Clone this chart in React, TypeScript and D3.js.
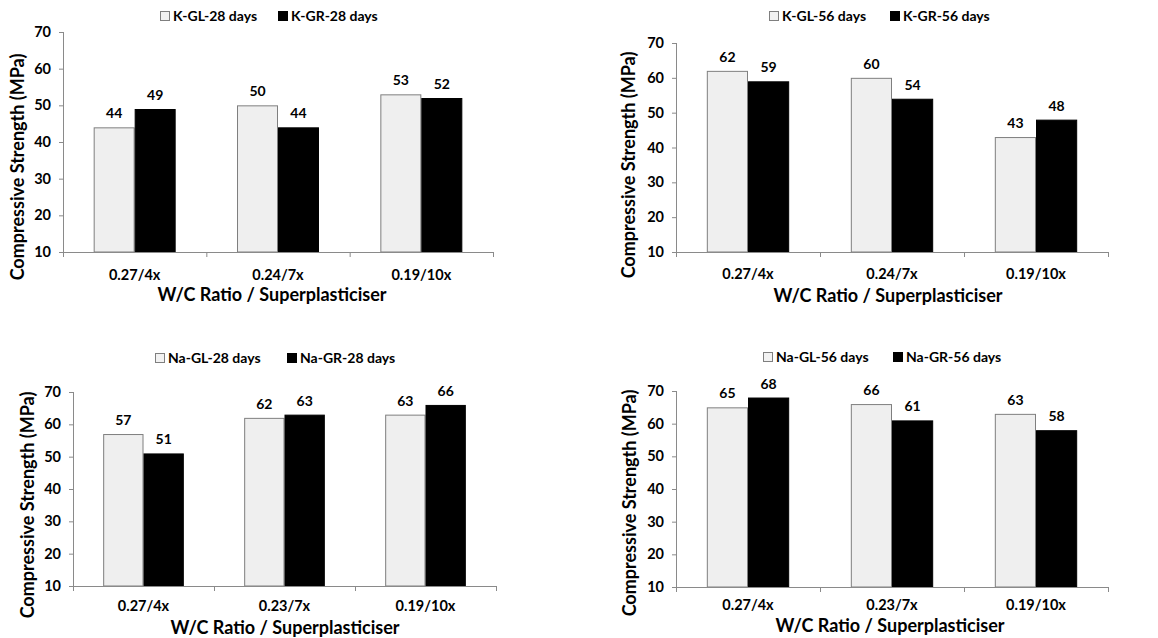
import * as d3 from 'd3';
import { useEffect, useRef } from 'react';

// values
const kCategories = ['0.27/4x', '0.24/7x', '0.19/10x'];
const naCategories = ['0.27/4x', '0.23/7x', '0.19/10x'];
const yTicks = [10, 20, 30, 40, 50, 60, 70];

const kGL28 = [44, 50, 53];
const kGR28 = [49, 44, 52];
const kGL56 = [62, 60, 43];
const kGR56 = [59, 54, 48];
const naGL28 = [57, 62, 63];
const naGR28 = [51, 63, 66];
const naGL56 = [65, 66, 63];
const naGR56 = [68, 61, 58];

const FONT = 'Lato, "Open Sans", sans-serif';
const AXIS_GREY = '#8a8a8a';

interface PanelProps {
    categories: string[];
    gl: number[];
    gr: number[];
    glName: string;
    grName: string;
    x0: number;
    x1: number;
    yTop: number;
    yBot: number;
    legendY: number;
    legendX1: number;
    legendX2: number;
    yTitleX: number;
    yTitleY: number;
    xTickY: number;
    xTitleX: number;
    xTitleY: number;
}

function Panel(props: PanelProps) {
    const { categories, gl, gr, glName, grName, x0, x1, yTop, yBot } = props;
    const xAxisRef = useRef<SVGGElement>(null);
    const yAxisRef = useRef<SVGGElement>(null);

    const x = d3.scaleBand<string>().domain(categories).range([x0, x1]).padding(0);
    const inner = d3
        .scaleBand<string>()
        .domain(['gl', 'gr'])
        .range([x.bandwidth() * 0.214, x.bandwidth() * 0.786])
        .padding(0);
    const y = d3.scaleLinear().domain([10, 70]).range([yBot, yTop]);

    useEffect(() => {
        if (yAxisRef.current) {
            d3.select(yAxisRef.current)
                .call(d3.axisLeft(y).tickValues(yTicks).tickSize(4).tickPadding(8).tickFormat(d3.format('d')))
                .call((g) => g.select('.domain').attr('stroke', AXIS_GREY).attr('d', `M0.5,${yTop}V${yBot}`))
                .call((g) => g.selectAll('.tick line').attr('stroke', AXIS_GREY))
                .call((g) =>
                    g
                        .selectAll('.tick text')
                        .attr('fill', '#000')
                        .attr('font-size', 14.5)
                        .attr('font-weight', 700)
                        .attr('font-family', FONT)
                );
        }
        if (xAxisRef.current) {
            const bounds = [x0, ...categories.map((c) => (x(c) as number) + x.bandwidth())];
            const g = d3.select(xAxisRef.current);
            g.selectAll('*').remove();
            g.append('line')
                .attr('x1', x0 - 4)
                .attr('x2', x1)
                .attr('y1', yBot + 0.5)
                .attr('y2', yBot + 0.5)
                .attr('stroke', AXIS_GREY);
            g.selectAll('.bnd')
                .data(bounds)
                .join('line')
                .attr('class', 'bnd')
                .attr('x1', (d) => d + 0.5)
                .attr('x2', (d) => d + 0.5)
                .attr('y1', yBot)
                .attr('y2', yBot + 5)
                .attr('stroke', AXIS_GREY);
            g.selectAll('.lbl')
                .data(categories)
                .join('text')
                .attr('class', 'lbl')
                .attr('x', (d) => (x(d) as number) + x.bandwidth() / 2)
                .attr('y', props.xTickY)
                .attr('dy', '0.35em')
                .attr('text-anchor', 'middle')
                .attr('font-size', 14.5)
                .attr('font-weight', 700)
                .attr('font-family', FONT)
                .text((d) => d);
        }
    });

    const series = [
        { key: 'gl', values: gl, fill: '#efefef', stroke: '#7f7f7f' },
        { key: 'gr', values: gr, fill: '#000', stroke: '#000' },
    ];

    return (
        <g>
            {series.map((s) =>
                s.values.map((v, i) => {
                    const bx = (x(categories[i]) as number) + (inner(s.key) as number);
                    return (
                        <g key={s.key + i}>
                            <rect
                                x={bx + 0.5}
                                y={y(v) + 0.5}
                                width={inner.bandwidth() - 1}
                                height={yBot - y(v) - 0.5}
                                fill={s.fill}
                                stroke={s.stroke}
                                strokeWidth={1}
                            />
                            <text
                                x={bx + inner.bandwidth() / 2}
                                y={y(v) - 9}
                                textAnchor="middle"
                                fontSize={14}
                                fontWeight={700}
                                fontFamily={FONT}
                            >
                                {v}
                            </text>
                        </g>
                    );
                })
            )}
            <g ref={yAxisRef} transform={`translate(${x0},0)`}></g>
            <g ref={xAxisRef}></g>
            <text
                transform={`translate(${props.yTitleX},${props.yTitleY}) rotate(-90)`}
                textAnchor="middle"
                dy="0.35em"
                fontSize={18}
                fontWeight={700}
                fontFamily={FONT}
            >
                Compressive Strength (MPa)
            </text>
            <text
                x={props.xTitleX}
                y={props.xTitleY}
                dy="0.35em"
                textAnchor="middle"
                fontSize={18}
                fontWeight={700}
                fontFamily={FONT}
            >
                W/C Ratio / Superplasticiser
            </text>
            <rect x={props.legendX1 + 0.5} y={props.legendY - 4.5} width={9} height={9} fill="#f2f2f2" stroke="#7f7f7f" />
            <text x={props.legendX1 + 13} y={props.legendY} dy="0.35em" fontSize={14} fontWeight={700} fontFamily={FONT}>
                {glName}
            </text>
            <rect x={props.legendX2} y={props.legendY - 5} width={10} height={10} fill="#000" />
            <text x={props.legendX2 + 13} y={props.legendY} dy="0.35em" fontSize={14} fontWeight={700} fontFamily={FONT}>
                {grName}
            </text>
        </g>
    );
}

export default function App() {
    return (
        <svg
            width={1158}
            height={638}
            viewBox="0 0 1158 638"
            style={{ position: 'absolute', left: 0, top: 0, background: '#fff' }}
        >
            <Panel
                categories={kCategories}
                gl={kGL28}
                gr={kGR28}
                glName="K-GL-28 days"
                grName="K-GR-28 days"
                x0={63}
                x1={493}
                yTop={32}
                yBot={252}
                legendY={16}
                legendX1={160}
                legendX2={278}
                yTitleX={18}
                yTitleY={167}
                xTickY={275}
                xTitleX={272}
                xTitleY={295}
            />
            <Panel
                categories={kCategories}
                gl={kGL56}
                gr={kGR56}
                glName="K-GL-56 days"
                grName="K-GR-56 days"
                x0={676}
                x1={1108}
                yTop={43}
                yBot={252}
                legendY={16}
                legendX1={769}
                legendX2={890}
                yTitleX={629}
                yTitleY={165}
                xTickY={274}
                xTitleX={888}
                xTitleY={296}
            />
            <Panel
                categories={naCategories}
                gl={naGL28}
                gr={naGR28}
                glName="Na-GL-28 days"
                grName="Na-GR-28 days"
                x0={73}
                x1={496}
                yTop={392}
                yBot={586}
                legendY={358}
                legendX1={155}
                legendX2={287}
                yTitleX={28}
                yTitleY={505}
                xTickY={606}
                xTitleX={285}
                xTitleY={628}
            />
            <Panel
                categories={naCategories}
                gl={naGL56}
                gr={naGR56}
                glName="Na-GL-56 days"
                grName="Na-GR-56 days"
                x0={676}
                x1={1108}
                yTop={391}
                yBot={587}
                legendY={357}
                legendX1={763}
                legendX2={893}
                yTitleX={630}
                yTitleY={503}
                xTickY={605}
                xTitleX={890}
                xTitleY={626}
            />
        </svg>
    );
}
